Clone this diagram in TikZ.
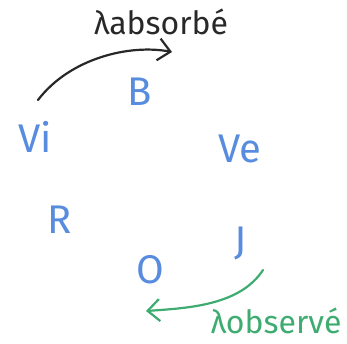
\documentclass[tikz,border=0pt]{standalone}
\usepackage{fontspec}
\setmainfont{Fira Sans}
\usepackage{tikz}
\usetikzlibrary{arrows.meta,positioning,calc}
\definecolor{couleur}{RGB}{88,140,222}
\definecolor{encre}{RGB}{40,40,40}
\definecolor{vert}{RGB}{62,172,112}

\begin{document}
\begin{tikzpicture}[x=0.5pt, y=-0.5pt,
    every node/.style={font=\fontsize{20}{24}\selectfont},
    teinte/.style={text=couleur},
    legende/.style={font=\fontsize{16}{19}\selectfont, inner sep=0pt},
    fleche/.style={line width=1.1pt, line cap=round, -{Straight Barb[length=6pt,width=11pt,line width=1.1pt]}}]
  \useasboundingbox (0,0) rectangle (347,343);
  % colours on the wheel
  \node[teinte] (B) at (140,92) {B};
  \node[teinte] (Vi) at (35,137) {Vi};
  \node[teinte] (Ve) at (240,149) {Ve};
  \node[teinte] (R) at (60,220) {R};
  \node[teinte] (J) at (241,243) {J};
  \node[teinte] (O) at (150,270) {O};
  % absorbed wavelength
  \node[legende, text=encre] (abs) at (161,22) {λabsorbé};
  \coordinate (a1) at (38,100);
  \coordinate (a2) at (172,52);
  \draw[fleche, encre] (a1) .. controls (70,58) and (130,44) .. (a2);
  % observed wavelength
  \node[legende, text=vert] (obs) at (276,321) {λobservé};
  \coordinate (o1) at (263,270);
  \coordinate (o2) at (146,311);
  \draw[fleche, vert] (o1) .. controls (240,305) and (190,308) .. (o2);
\end{tikzpicture}
\end{document}
